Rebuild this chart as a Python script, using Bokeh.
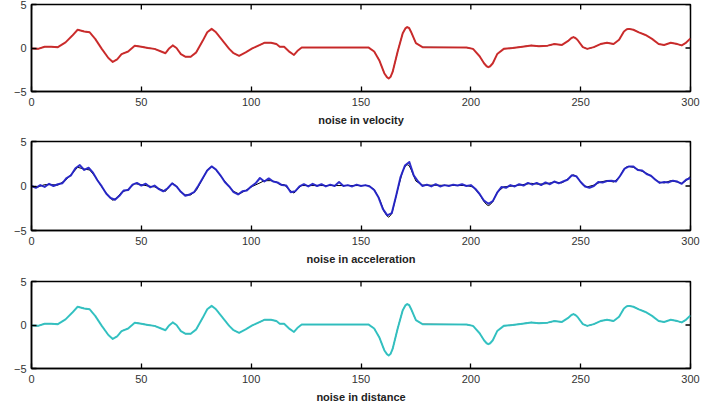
import math
from bokeh.plotting import figure
from bokeh.layouts import column
from bokeh.models import Range1d, FixedTicker
from bokeh.embed import file_html
from bokeh.resources import INLINE

# clean reference signal (drawn as thin black line) and its estimate
truth_x = [0, 3, 6, 9, 12, 15.5, 18.5, 21, 24, 26.5, 29, 32, 35, 37, 39, 41, 44, 47, 50, 53,
           56, 59, 61, 62.5, 64.3, 66, 68, 70, 72.5, 75, 78, 80, 82, 84, 87, 90, 92, 94.5, 97.5,
           100.5, 104, 106, 109, 111.5, 113, 115, 117.5, 119.5, 121, 123, 153.5, 156, 158.3,
           160.6, 161.8, 162.6, 163.5, 164.4, 166.7, 169, 170.2, 171, 171.9, 172.7, 175, 178,
           198, 201, 204, 206, 207.2, 208, 208.8, 210, 212, 215, 219, 223.5, 227.5, 231, 235,
           238, 241.5, 244.5, 245.8, 246.7, 247.6, 248.5, 251, 253, 256, 259, 262, 265, 267.5,
           269.7, 271, 272, 274, 276.5, 279.5, 282.5, 285.5, 288, 291, 294, 296, 297.7, 300]
truth_y = [-0.05, -0.1, 0.15, 0.15, 0.1, 0.65, 1.4, 2.1, 1.9, 1.8, 1.05, -0.1, -1.15, -1.6,
           -1.3, -0.7, -0.4, 0.27, 0.15, 0.0, -0.1, -0.4, -0.6, -0.1, 0.3, 0.0, -0.7, -1.0,
           -1.0, -0.5, 0.85, 1.8, 2.2, 1.8, 0.85, -0.1, -0.6, -0.9, -0.5, -0.05, 0.35, 0.6,
           0.6, 0.45, 0.15, 0.15, -0.45, -0.8, -0.35, 0.05, 0.05, -0.4, -1.4, -2.9, -3.35,
           -3.5, -3.3, -2.75, -0.4, 1.7, 2.25, 2.4, 2.3, 1.9, 0.55, 0.1, 0.05, -0.1, -0.95,
           -1.75, -2.1, -2.2, -2.1, -1.75, -0.7, -0.1, 0.0, 0.15, 0.3, 0.2, 0.27, 0.45, 0.35,
           0.85, 1.15, 1.25, 1.15, 0.95, 0.1, -0.1, 0.1, 0.45, 0.6, 0.45, 0.95, 1.9, 2.15, 2.2,
           2.1, 1.8, 1.5, 1.05, 0.45, 0.35, 0.6, 0.45, 0.3, 0.55, 1.1]

# noisy estimate (noise in acceleration), sampled every 2 units
accel_x = list(range(0, 301, 2))
accel_y = [0.0, -0.2, 0.1, -0.1, 0.25, 0.0, 0.2, 0.3, 0.9, 1.2, 2.0, 2.35, 1.8, 2.05, 1.5,
           0.65, -0.05, -0.85, -1.35, -1.55, -1.1, -0.5, -0.45, 0.15, 0.35, 0.05, 0.25, -0.15,
           0.05, -0.35, -0.6, -0.25, 0.3, -0.05, -0.65, -1.1, -0.95, -0.7, 0.05, 0.9, 1.75,
           2.2, 1.85, 1.2, 0.45, -0.05, -0.7, -0.95, -0.6, -0.5, -0.05, 0.3, 0.9, 0.5, 0.85,
           0.5, 0.4, 0.1, 0.05, -0.7, -0.6, -0.05, 0.2, -0.05, 0.25, 0.0, 0.2, -0.05, 0.15,
           0.0, 0.45, 0.0, 0.1, -0.05, 0.15, 0.0, 0.1, -0.05, -0.45, -1.3, -2.6, -3.3, -3.05,
           -1.1, 1.0, 2.3, 2.7, 1.2, 0.5, 0.0, 0.15, -0.05, 0.2, -0.05, 0.1, 0.0, 0.15, 0.05,
           0.2, 0.0, 0.1, -0.3, -0.9, -1.65, -2.0, -1.7, -0.75, -0.1, -0.2, 0.1, -0.05, 0.2,
           0.05, 0.35, 0.15, 0.35, 0.1, 0.4, 0.2, 0.5, 0.3, 0.5, 0.7, 1.2, 1.1, 0.45, -0.05,
           -0.2, 0.0, 0.45, 0.4, 0.55, 0.6, 0.5, 1.15, 1.95, 2.2, 2.2, 1.8, 1.75, 1.35, 1.15,
           0.7, 0.35, 0.45, 0.4, 0.6, 0.5, 0.25, 0.7, 0.9]

x_ticks = [0, 50, 100, 150, 200, 250, 300]
y_ticks = [-5, 0, 5]
y_labels = {-5: "\u22125", 0: "0", 5: "5"}
titles = ["noise in velocity", "noise in acceleration", "noise in distance"]
colors = ["#d02a2a", "#2323c8", "#33c6c6"]
est_x = [truth_x, accel_x, truth_x]
est_y = [truth_y, accel_y, truth_y]

FONT = "Liberation Sans"
tops = [4, 6, 11]
bottoms = [44, 40, 36]
X_MIN, X_MAX, Y_MIN, Y_MAX = 0, 300, -5, 5

figs = []
for i in range(3):
    p = figure(width=714, height=135, output_backend="svg", toolbar_location=None,
               x_range=Range1d(X_MIN, X_MAX), y_range=Range1d(Y_MIN, Y_MAX),
               min_border_left=31, min_border_right=24,
               min_border_top=tops[i], min_border_bottom=bottoms[i],
               x_axis_label=titles[i])
    p.grid.visible = False
    p.outline_line_color = "black"
    p.outline_line_width = 1.5
    p.background_fill_color = "white"
    p.border_fill_color = "white"

    for ax in [p.xaxis[0], p.yaxis[0]]:
        ax.axis_line_color = "black"
        ax.axis_line_width = 1.5
        ax.major_tick_in = 5
        ax.major_tick_out = 0
        ax.major_tick_line_width = 1.3
        ax.minor_tick_line_color = None
        ax.major_tick_line_color = "black"
        ax.major_label_text_font = FONT
        ax.major_label_text_font_size = "11px"
        ax.major_label_text_color = "#333333"
    p.xaxis[0].major_label_standoff = 6
    p.yaxis[0].major_label_standoff = 5
    p.xaxis[0].ticker = FixedTicker(ticks=x_ticks)
    p.yaxis[0].ticker = FixedTicker(ticks=y_ticks)
    p.yaxis[0].major_label_overrides = y_labels
    p.xaxis[0].axis_label_text_font = FONT
    p.xaxis[0].axis_label_text_font_style = "bold"
    p.xaxis[0].axis_label_text_font_size = "11px"
    p.xaxis[0].axis_label_text_color = "#222222"
    p.xaxis[0].axis_label_standoff = 5

    # mirrored inward ticks on the top and right frame edges
    p.ray(x=x_ticks, y=[Y_MAX] * len(x_ticks), length=5, length_units="screen",
          angle=-math.pi / 2, line_color="black", line_width=1.3)
    p.ray(x=[X_MAX] * len(y_ticks), y=y_ticks, length=5, length_units="screen",
          angle=math.pi, line_color="black", line_width=1.3)

    p.line(truth_x, truth_y, line_color="black", line_width=1, line_join="round")
    p.line(est_x[i], est_y[i], line_color=colors[i], line_width=2, line_alpha=0.95,
           line_join="round")
    figs.append(p)

layout = column(*figs, spacing=0)
open("out.html", "w").write(file_html(layout, INLINE))
